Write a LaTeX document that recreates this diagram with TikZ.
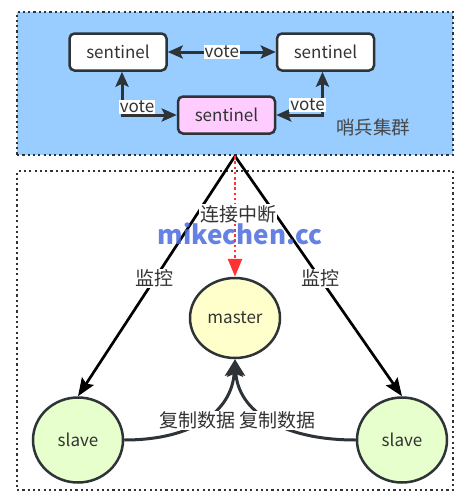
\documentclass[tikz,border=0pt]{standalone}
\usepackage{fontspec}
\setmainfont{Noto Sans CJK SC}
\usepackage{xcolor}
\usetikzlibrary{positioning,arrows.meta,shapes.geometric}
\definecolor{clusterblue}{HTML}{99CCFF}
\definecolor{sentpink}{HTML}{FFCCFF}
\definecolor{masteryellow}{HTML}{FFFFCC}
\definecolor{slavegreen}{HTML}{E6FFCC}
\definecolor{linegray}{HTML}{2E3338}
\definecolor{textgray}{HTML}{333333}
\definecolor{breakred}{HTML}{FF3333}
\definecolor{markblue}{HTML}{4A6BDF}
\tikzset{
	groupbox/.style={
			draw=linegray,
			line width=2.2pt,
			dash pattern=on 2.2pt off 3.1pt
		},
	sentinel/.style={
			draw=linegray,
			line width=2.5pt,
			rounded corners=5pt,
			minimum width=97pt,
			minimum height=37pt,
			text=textgray,
			font=\fontsize{17}{20}\selectfont
		},
	redis/.style={
			draw=linegray,
			ellipse,
			line width=2.5pt,
			minimum width=90pt,
			text=textgray,
			font=\fontsize{17}{20}\selectfont
		},
	lbl/.style={
			fill=white,
			inner sep=1pt,
			text=textgray,
			font=\fontsize{17}{20}\selectfont
		},
	cjklbl/.style={
			lbl,
			font=\fontsize{19}{21}\selectfont
		},
	votearrow/.style={
			draw=linegray,
			line width=3pt,
			{Stealth[length=15pt,width=13pt,inset=3pt]}-{Stealth[length=15pt,width=13pt,inset=3pt]}
		},
	monitor/.style={
			draw=black,
			line width=2.7pt,
			-{Stealth[length=18pt,width=14pt,inset=3pt]}
		},
	broken/.style={
			draw=breakred,
			line width=2.7pt,
			dash pattern=on 2.7pt off 2.5pt,
			-{Stealth[length=18pt,width=14pt,inset=0pt]}
		},
	replicate/.style={
			draw=linegray,
			line width=3pt,
			-{Stealth[length=17pt,width=18pt,inset=3pt]}
		}
}

\begin{document}
\begin{tikzpicture}[x=1pt,y=-1pt]
		\useasboundingbox (0,0) rectangle (469,498);

		% Groups
		\node[groupbox,
			minimum width=436pt,
			minimum height=319pt
		] (servers) at (235,330.5) {};

		\node[groupbox,
			fill=clusterblue,
			minimum width=436pt,
			minimum height=143pt
		] (cluster) at (235,83.5) {};

		% Sentinels
		\node[sentinel,
			fill=white
		] (sentl) at (118,52) {sentinel};

		\node[sentinel,
			fill=white,
			right=108pt of sentl
		] (sentr) {sentinel};

		\node[sentinel,
			fill=sentpink
		] (sentm) at (226.5,115) {sentinel};

		\node[text=textgray!90,
			font=\fontsize{18.5}{21}\selectfont
		] (clustername) at (373,127) {哨兵集群};

		% Votes
		\draw[votearrow] (sentl) -- (sentr)
		node[midway,lbl]{vote};

		\draw[votearrow] ([xshift=4pt]sentl.south) |- (sentm.west)
		node[pos=0.5,lbl,xshift=15pt,yshift=8pt]{vote};

		\draw[votearrow] (sentm.east) -| ([xshift=-3pt]sentr.south)
		node[pos=0.5,lbl,xshift=-15pt,yshift=10pt]{vote};

		% Redis servers
		\node[redis,
			fill=masteryellow,
			minimum height=80pt
		] (master) at (235,318) {master};

		\node[redis,
			fill=slavegreen,
			minimum height=85pt
		] (slavel) at (78,440) {slave};

		\node[redis,
			fill=slavegreen,
			minimum height=85pt
		] (slaver) at (402,440) {slave};

		% Monitoring
		\draw[monitor] (cluster.south) -- (slavel.north)
		node[pos=0.51,cjklbl]{监控};

		\draw[monitor] (cluster.south) -- (slaver.north)
		node[pos=0.51,cjklbl]{监控};

		\draw[broken] (cluster.south) -- (master.north)
		node[pos=0.48,cjklbl,xshift=3pt]{连接中断};

		% Replication
		\draw[replicate] (slavel.east) .. controls (195,440) and (232,410) .. (master.south)
		node[pos=0.5,cjklbl,xshift=-8pt,yshift=-2pt]{复制数据};

		\draw[replicate] (slaver.west) .. controls (280,440) and (238,410) .. (master.south)
		node[pos=0.5,cjklbl,xshift=9pt,yshift=-2pt]{复制数据};

		% Watermark
		\node[text=markblue,
			opacity=0.85,
			font=\fontsize{26}{28}\selectfont\bfseries
		] (mark) at (240,234) {mikechen.cc};
	\end{tikzpicture}
\end{document}
